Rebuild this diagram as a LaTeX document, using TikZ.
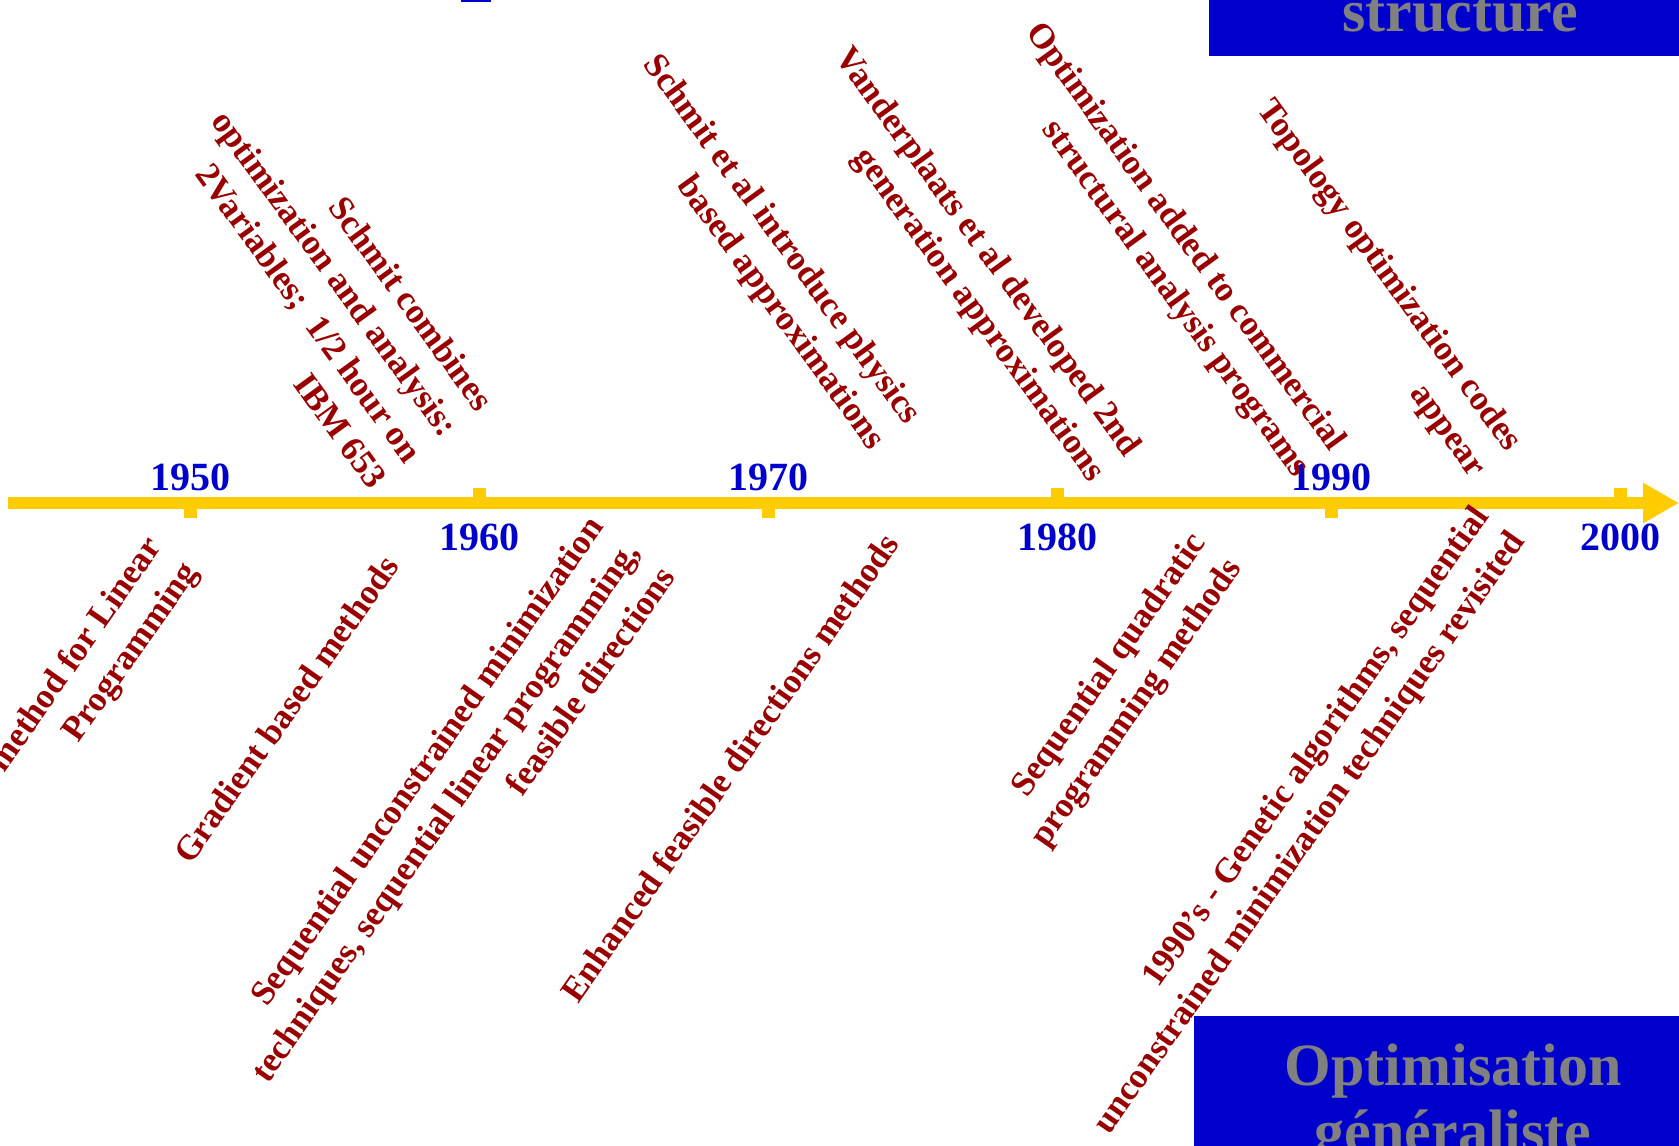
\documentclass[tikz,border=0pt]{standalone}
\usepackage{fontspec}
\setmainfont{Liberation Serif}
\usetikzlibrary{arrows.meta, positioning}
\definecolor{axisyellow}{RGB}{255,204,0}
\definecolor{yearblue}{RGB}{0,0,204}
\definecolor{eventred}{RGB}{153,0,0}
\definecolor{bannerblue}{RGB}{0,0,204}
\definecolor{bannergray}{RGB}{128,128,128}
\tikzset{
x=0.5pt, y=-0.5pt, % one unit is one pixel of the slide, y runs downwards
axis/.style={draw=axisyellow, line width=6pt, -{Triangle[length=18pt, width=19pt]}}, % the time line
tickmark/.style={fill=axisyellow}, % small squares on the time line
year/.style={text=yearblue, font=\bfseries\fontsize{20}{24}\selectfont, inner sep=0pt, anchor=base},
event/.style={text=eventred, font=\bfseries\fontsize{17.5}{22}\selectfont, align=right, inner sep=0pt, anchor=base east}, % base = last line
above event/.style={event, rotate=-54}, % texts hanging above the line
below event/.style={event, rotate=55}, % texts standing below the line
banner/.style={fill=bannerblue},
banner text/.style={text=bannergray, font=\bfseries\fontsize{30}{33}\selectfont, align=center, inner sep=0pt, anchor=base},
}

\begin{document}
\begin{tikzpicture}
            \path[use as bounding box, fill=white] (0,0) rectangle (1679,1145);
            \fill[yearblue] (461,0) rectangle (491,2);
            \fill[banner] (1209,-60) rectangle (1700,56);
            \node[banner text] (structure) at (1460,32) {structure};
            \fill[banner] (1194,1016) rectangle (1700,1200);
            \node[banner text] (generalist) at (1453,1151) {Optimisation\\généraliste};
            \coordinate (axisstart) at (8,503);
            \coordinate (axisend) at (1679,503);
            \draw[axis] (axisstart) -- (axisend);
            \foreach \yr/\px/\dir in {1950/190.5/1, 1960/479.5/-1, 1970/768.5/1, 1980/1057/-1, 1990/1331/1, 2000/1620/-1}{
                \coordinate (t\yr) at (\px,503);
                \fill[tickmark] ([xshift=-3.25pt]t\yr) rectangle ++(13,15*\dir);
                \node[year] (y\yr) at (\px,{520-30*\dir}) {\yr};
            }
            \node[below event] (simplex) at (199,572) {method for Linear\\Programming};
            \node[below event] (gradient) at (401,566) {Gradient based methods};
            \node[below event] (sumt) at (677,577) {Sequential unconstrained minimization\\techniques, sequential linear programming,\\feasible directions};
            \node[below event] (enhanced) at (901,544) {Enhanced feasible directions methods};
            \node[below event] (sqp) at (1243,568) {Sequential quadratic\\programming methods};
            \node[below event] (genetic) at (1526,541) {1990’s - Genetic algorithms, sequential\\unconstrained minimization techniques revisited};
            \node[above event] (schmit) at (370,491) {Schmit combines\\optimization and analysis:\\2Variables;~ 1/2 hour on\\IBM 653};
            \node[above event] (physics) at (870,452) {Schmit et al introduce physics\\based approximations};
            \node[above event] (vanderplaats) at (1090,484) {Vanderplaats et al developed 2nd\\generation approximations};
            \node[above event] (commercial) at (1295,479) {Optimization added to commercial\\structural analysis programs};
            \node[above event] (topology) at (1471,479) {Topology optimization codes\\appear};
        \end{tikzpicture}
\end{document}
